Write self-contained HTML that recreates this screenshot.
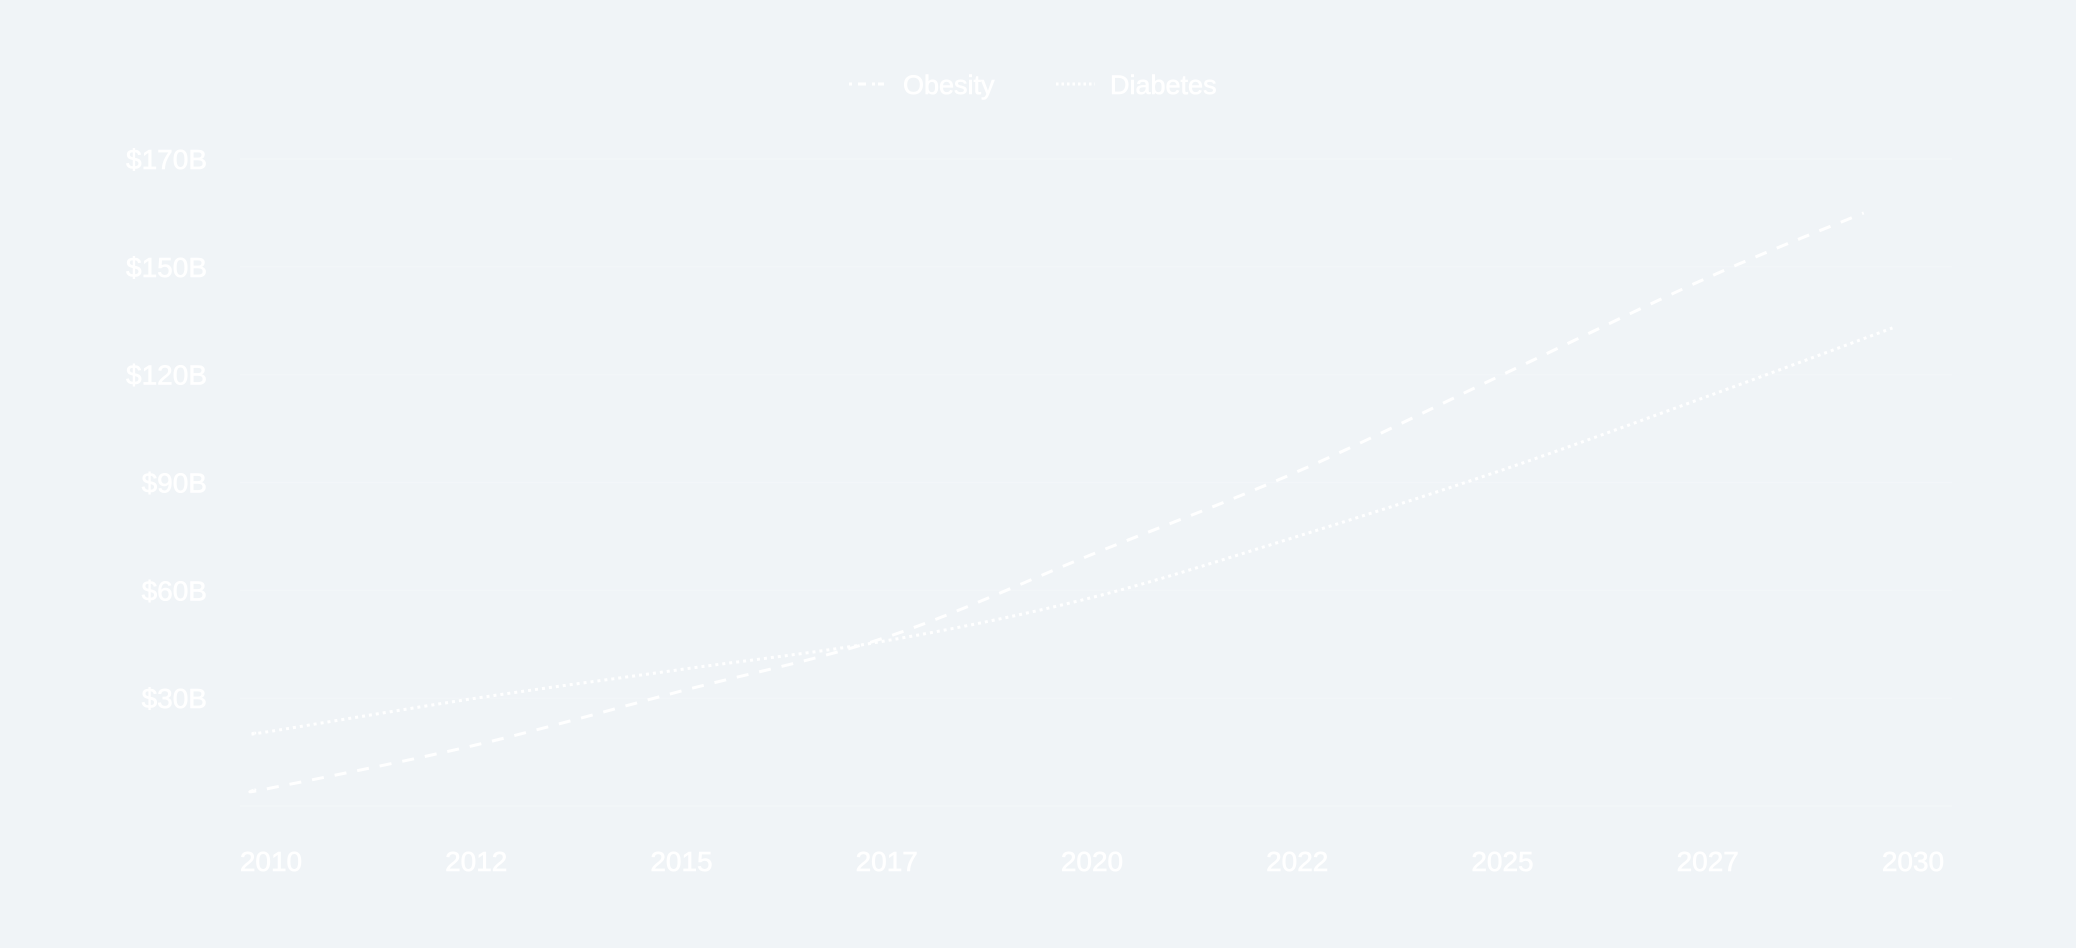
<!DOCTYPE html>
<html><head><meta charset="utf-8"><style>
html,body{margin:0;padding:0;background:#f0f4f7;}
svg{display:block;}
text{font-family:"Liberation Sans",sans-serif;fill:#ffffff;stroke:#ffffff;stroke-width:0.6px;}
</style></head><body>
<svg id="chart" width="2076" height="948" viewBox="0 0 2076 948" xmlns="http://www.w3.org/2000/svg">
<rect width="2076" height="948" fill="#f0f4f7"/>
<g id="grid"></g>
<g id="yaxis"></g>
<g id="xaxis"></g>
<g id="series"></g>
<g>
  <g>
    <line x1="849" y1="84" x2="884" y2="84" stroke="#fff" stroke-width="3" stroke-dasharray="3 6 8 6 3"/>
    <text x="903" y="94" font-size="27">Obesity</text>
  </g>
  <g>
    <line x1="1056" y1="84" x2="1095" y2="84" stroke="#fff" stroke-width="3" stroke-dasharray="2.5 3"/>
    <text x="1110" y="94" font-size="27">Diabetes</text>
  </g>
</g>
</svg>
<script>
const yTickValues = [0, 30, 60, 90, 120, 150, 180];
const yTickLabels = ["", "$30B", "$60B", "$90B", "$120B", "$150B", "$170B"];
const xTickValues = [2010, 2012.5, 2015, 2017.5, 2020, 2022.5, 2025, 2027.5, 2030];
const xTickLabels = ["2010", "2012", "2015", "2017", "2020", "2022", "2025", "2027", "2030"];
const obesityYears = [2009.8, 2010, 2012.5, 2015, 2017.5, 2020, 2022.5, 2025, 2027.5, 2029.4];
const obesityValues = [4.5, 5, 17, 32, 47, 70, 93, 120, 147, 165];
const diabetesYears = [2009.8, 2010, 2012.5, 2015, 2017.5, 2020, 2022.5, 2025, 2027.5, 2029.75];
const diabetesValues = [20.3, 20.8, 30, 38, 46, 58, 75, 93.5, 114, 133];

const NS = "http://www.w3.org/2000/svg";
function x(v){ return 271 + (v - 2010) / 20 * (1913 - 271); }
function y(v){ return 806 - v / 180 * (806 - 159); }
function mk(tag, attrs, parent){
  const el = document.createElementNS(NS, tag);
  for (const k in attrs) el.setAttribute(k, attrs[k]);
  parent.appendChild(el);
  return el;
}
const grid = document.getElementById('grid');
const yaxis = document.getElementById('yaxis');
const xaxis = document.getElementById('xaxis');
const series = document.getElementById('series');

yTickValues.forEach((v, i) => {
  const ln = mk('line', {x1: 240, x2: 1952, y1: y(v), y2: y(v), stroke: '#f3f6f9', 'stroke-width': 1.2}, grid);
  
  
  if (yTickLabels[i]) {
    const t = mk('text', {x: 207, y: y(v) + 10, 'text-anchor': 'end', 'font-size': 28}, yaxis);
    t.textContent = yTickLabels[i];
    
    
  }
});
xTickValues.forEach((v, i) => {
  const t = mk('text', {x: x(v), y: 871, 'text-anchor': 'middle', 'font-size': 28}, xaxis);
  t.textContent = xTickLabels[i];
  
  
});
function path(years, vals){
  const pts = years.map((yr, i) => [x(yr), y(vals[i])]);
  let d = 'M' + pts[0][0] + ',' + pts[0][1];
  for (let i = 0; i < pts.length - 1; i++) {
    const p0 = pts[i - 1] || pts[i], p1 = pts[i], p2 = pts[i + 1], p3 = pts[i + 2] || p2;
    const c1 = [p1[0] + (p2[0] - p0[0]) / 6, p1[1] + (p2[1] - p0[1]) / 6];
    const c2 = [p2[0] - (p3[0] - p1[0]) / 6, p2[1] - (p3[1] - p1[1]) / 6];
    d += ' C' + c1 + ' ' + c2 + ' ' + p2;
  }
  return d;
}
const ob = mk('path', {d: path(obesityYears, obesityValues), fill: 'none', stroke: '#fff', 'stroke-width': 3, 'stroke-dasharray': '12 11'}, series);


const di = mk('path', {d: path(diabetesYears, diabetesValues), fill: 'none', stroke: '#fff', 'stroke-width': 3, 'stroke-dasharray': '3 4'}, series);


</script>
</body></html>
